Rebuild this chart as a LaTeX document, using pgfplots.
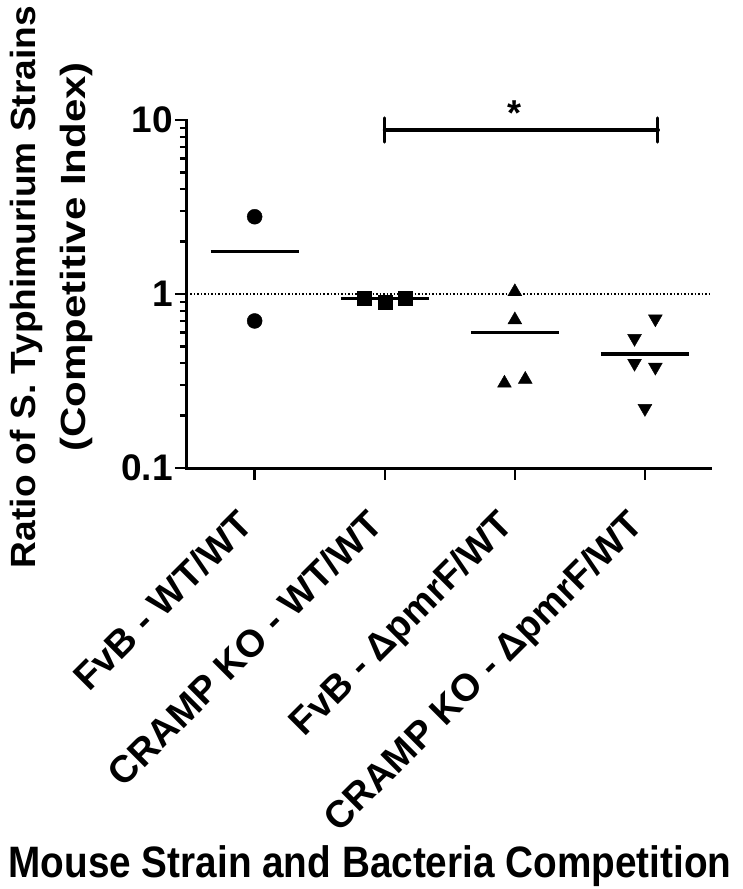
\documentclass[border=0pt]{standalone}
\usepackage{fontspec}
\setmainfont{Liberation Sans}
\newfontfamily\narrowfont[FakeStretch=0.88]{Liberation Sans}
\newfontfamily\lineonefont[FakeStretch=1.06]{Liberation Sans}
\newfontfamily\linetwofont[FakeStretch=1.2]{Liberation Sans}
\usepackage{pgfplots}
\pgfplotsset{compat=1.18}
\begin{document}
\begin{tikzpicture}[x=1pt,y=1pt]
\useasboundingbox (-187,-421) rectangle (556,468);
\begin{axis}[
    at={(0pt,0pt)}, anchor=south west,
    scale only axis,
    width=523pt, height=348pt,
    xmin=0.48, xmax=4.5,
    ymode=log, ymin=0.1, ymax=10,
    clip=false,
    axis lines*=left,
    axis line style={line width=3pt, line cap=rect},
    tick align=outside,
    major tick length=12pt,
    minor tick length=7pt,
    tick style={line width=2.5pt, black},
    xtick={1,2,3,4},
    xticklabels={FvB - WT/WT, CRAMP KO - WT/WT, FvB - ΔpmrF/WT, CRAMP KO - ΔpmrF/WT},
    ytick={0.1,1,10},
    yticklabels={0.1,1,10},
    minor ytick={0.2,0.3,0.4,0.5,0.6,0.7,0.8,0.9,2,3,4,5,6,7,8,9},
    yticklabel style={font=\fontsize{37}{37}\selectfont\bfseries, inner sep=2pt},
    xticklabel style={font=\fontsize{38}{38}\selectfont\bfseries, rotate=45,
        anchor=north east, inner sep=0pt, xshift=-33pt, yshift=-6pt},
    xlabel={Mouse Strain and Bacteria Competition},
    xlabel style={font=\narrowfont\fontsize{44}{44}\selectfont\bfseries,
        at={(axis description cs:0.35,-1.178)}, anchor=base},
    ylabel={Ratio of S. Typhimurium Strains},
    ylabel style={font=\lineonefont\fontsize{35}{35}\selectfont\bfseries,
        at={(axis description cs:-0.2906,0.520)}, anchor=base},
]
% reference line at 1
\addplot[black, line width=1.5pt, dash pattern=on 1.5pt off 2pt] coordinates {(0.48,1) (4.5,1)};

% FvB - WT/WT
\addplot[only marks, mark=*, mark size=7.5pt, black] coordinates {(1,2.78) (1,0.70)};
\addplot[black, line width=3.5pt] coordinates {(0.662,1.75) (1.338,1.75)};

% CRAMP KO - WT/WT
\addplot[only marks, mark=square*, mark size=7pt, black] coordinates {(1.84,0.95) (2,0.90) (2.16,0.95)};
\addplot[black, line width=3.5pt] coordinates {(1.662,0.94) (2.338,0.94)};

% FvB - dpmrF/WT
\addplot[only marks, mark=triangle*, mark size=8pt, black] coordinates {(3,1.03) (3,0.71) (2.92,0.307) (3.08,0.323)};
\addplot[black, line width=3.5pt] coordinates {(2.662,0.60) (3.338,0.60)};

% CRAMP KO - dpmrF/WT
\addplot[only marks, mark=triangle*, mark size=8pt, mark options={rotate=180}, black]
    coordinates {(4.08,0.72) (3.92,0.556) (3.92,0.40) (4.08,0.38) (4.0,0.22)};
\addplot[black, line width=3.5pt] coordinates {(3.662,0.452) (4.338,0.452)};

% significance bar
\addplot[black, line width=4pt, line cap=round] coordinates {(2,8.76) (4.1,8.76)};
\addplot[black, line width=3pt, line cap=round] coordinates {(2,10.27) (2,7.47)};
\addplot[black, line width=3pt, line cap=round] coordinates {(4.1,10.27) (4.1,7.47)};
\node[anchor=base, font=\fontsize{36}{36}\selectfont\bfseries] at (axis cs:3.0,9.24) {*};

% second line of the y label
\node[rotate=90, anchor=base, font=\linetwofont\fontsize{35}{35}\selectfont\bfseries]
    at (axis description cs:-0.195,0.606) {(Competitive Index)};
\end{axis}
\end{tikzpicture}
\end{document}
